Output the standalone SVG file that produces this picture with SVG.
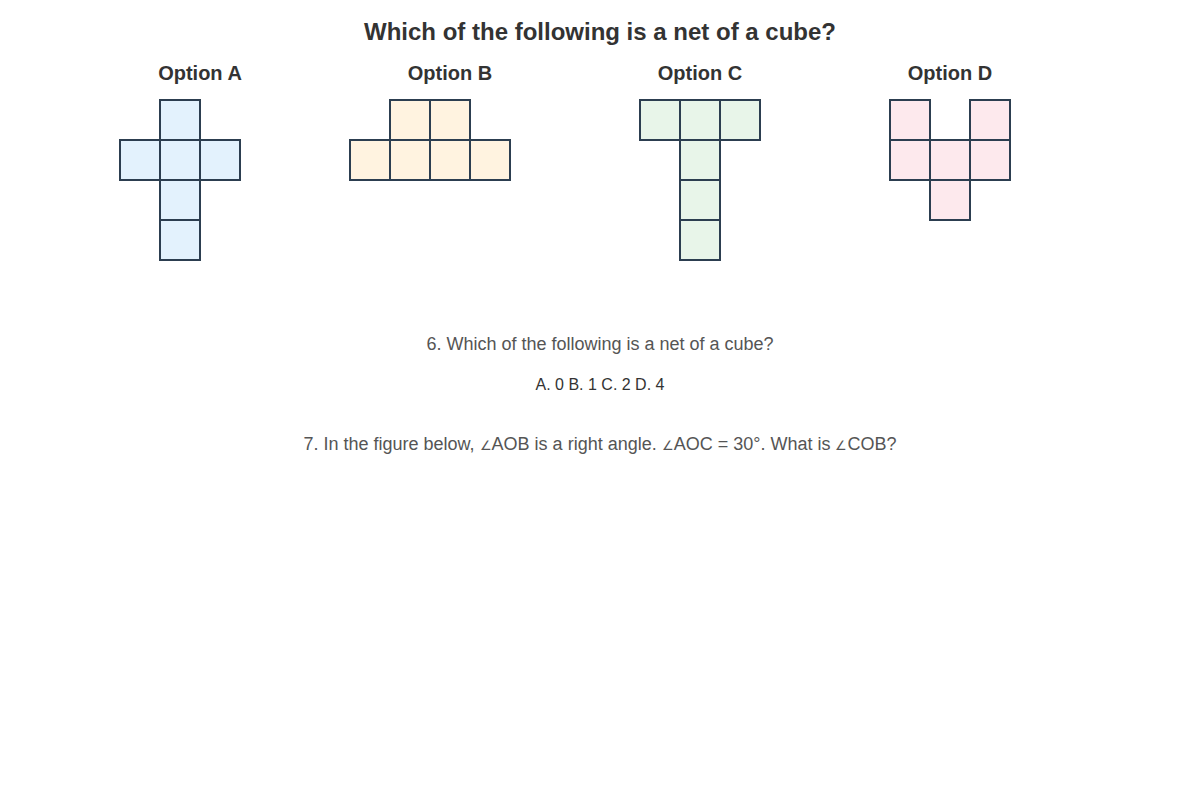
<svg xmlns="http://www.w3.org/2000/svg" width="1200" height="800" viewBox="0 0 1200 800">
<style>
.title{font-family:"Liberation Sans",Arial,sans-serif;font-size:24px;font-weight:bold;fill:#333;text-anchor:middle}
.lbl{font-family:"Liberation Sans",Arial,sans-serif;font-size:20px;font-weight:bold;fill:#333;text-anchor:middle}
.q{font-family:"Liberation Sans",Arial,sans-serif;font-size:18px;fill:#555;text-anchor:middle}
.ang{font-size:13px}
.ans{font-family:"Liberation Sans",Arial,sans-serif;font-size:16px;fill:#333;text-anchor:middle}
.sq{stroke:#2c3e50;stroke-width:2}
.a{fill:#e3f2fd}.b{fill:#fff3e0}.c{fill:#e8f5e9}.d{fill:#fde9ed}
</style>
<rect width="1200" height="800" fill="#fff"/>
<text class="title" x="600" y="40">Which of the following is a net of a cube?</text>
<g id="optionA">
<text class="lbl" x="200" y="80">Option A</text>
<rect class="sq a" x="160" y="100" width="40" height="40"/>
<rect class="sq a" x="120" y="140" width="40" height="40"/>
<rect class="sq a" x="160" y="140" width="40" height="40"/>
<rect class="sq a" x="200" y="140" width="40" height="40"/>
<rect class="sq a" x="160" y="180" width="40" height="40"/>
<rect class="sq a" x="160" y="220" width="40" height="40"/>
</g>
<g id="optionB">
<text class="lbl" x="450" y="80">Option B</text>
<rect class="sq b" x="390" y="100" width="40" height="40"/>
<rect class="sq b" x="430" y="100" width="40" height="40"/>
<rect class="sq b" x="350" y="140" width="40" height="40"/>
<rect class="sq b" x="390" y="140" width="40" height="40"/>
<rect class="sq b" x="430" y="140" width="40" height="40"/>
<rect class="sq b" x="470" y="140" width="40" height="40"/>
</g>
<g id="optionC">
<text class="lbl" x="700" y="80">Option C</text>
<rect class="sq c" x="640" y="100" width="40" height="40"/>
<rect class="sq c" x="680" y="100" width="40" height="40"/>
<rect class="sq c" x="720" y="100" width="40" height="40"/>
<rect class="sq c" x="680" y="140" width="40" height="40"/>
<rect class="sq c" x="680" y="180" width="40" height="40"/>
<rect class="sq c" x="680" y="220" width="40" height="40"/>
</g>
<g id="optionD">
<text class="lbl" x="950" y="80">Option D</text>
<rect class="sq d" x="890" y="100" width="40" height="40"/>
<rect class="sq d" x="970" y="100" width="40" height="40"/>
<rect class="sq d" x="890" y="140" width="40" height="40"/>
<rect class="sq d" x="930" y="140" width="40" height="40"/>
<rect class="sq d" x="970" y="140" width="40" height="40"/>
<rect class="sq d" x="930" y="180" width="40" height="40"/>
</g>
<g id="questions">
<text class="q" x="600" y="350">6. Which of the following is a net of a cube?</text>
<text class="ans" x="600" y="390">A. 0 B. 1 C. 2 D. 4</text>
<text class="q" x="600" y="450">7. In the figure below, <tspan class="ang">∠</tspan>AOB is a right angle. <tspan class="ang">∠</tspan>AOC = 30°. What is <tspan class="ang">∠</tspan>COB?</text>
</g>
<g id="connectors"></g>
</svg>
